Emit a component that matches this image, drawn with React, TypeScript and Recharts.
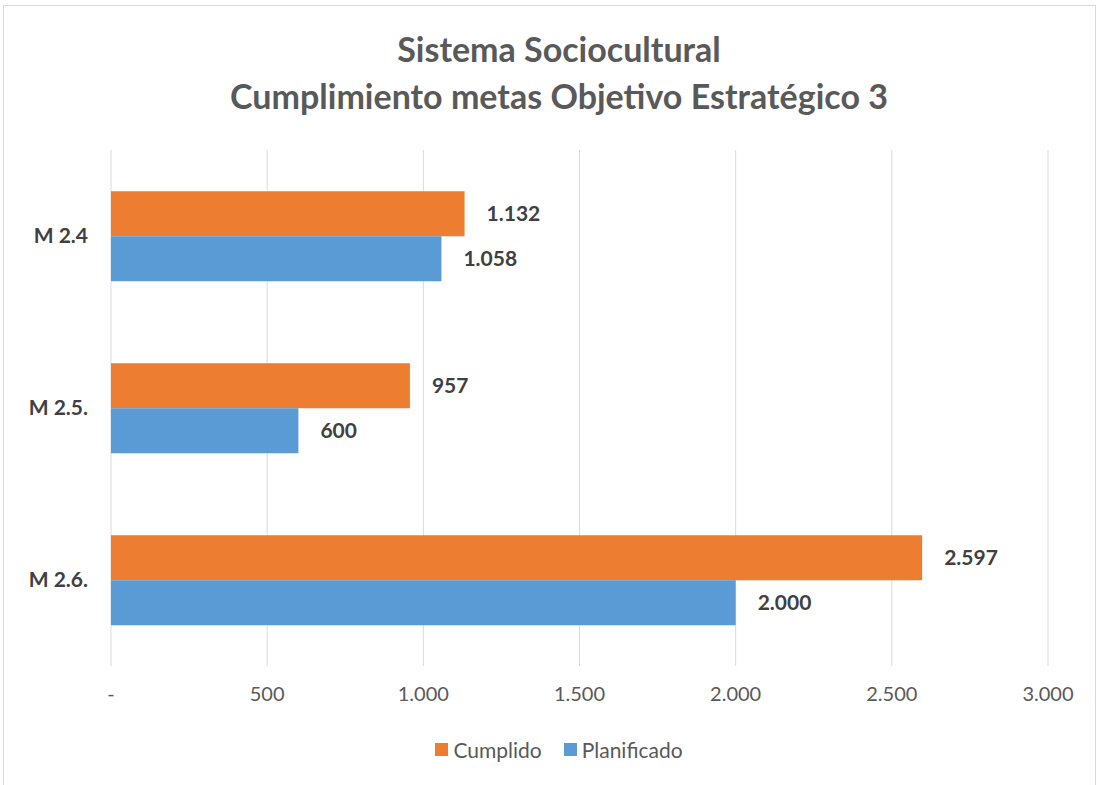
import React from "react";
import { BarChart, Bar, XAxis, YAxis, CartesianGrid, LabelList } from "recharts";

// Metas del objetivo estratégico 3
const categories = ["M 2.4", "M 2.5.", "M 2.6."];
const cumplido = [1132, 957, 2597];
const planificado = [1058, 600, 2000];
const xTicks = [0, 500, 1000, 1500, 2000, 2500, 3000];

const data = categories.map((name, i) => ({
  name,
  cumplido: cumplido[i],
  planificado: planificado[i],
}));

const FONT = "Lato, 'Open Sans', sans-serif";

const fmt = (v: number) =>
  v === 0 ? "-" : String(v).replace(/\B(?=(\d{3})+(?!\d))/g, ".");

const App: React.FC = () => {
  return (
    <div
      style={{
        position: "absolute",
        left: 0,
        top: 0,
        width: 1099,
        height: 785,
        background: "#fff",
        fontFamily: FONT,
      }}
    >
      <div
        style={{
          position: "absolute",
          left: 3,
          top: 5,
          width: 1091,
          height: 790,
          border: "1px solid #d9d9d9",
        }}
      />
      <div
        style={{
          position: "absolute",
          left: 0,
          top: 25,
          width: 1118,
          textAlign: "center",
          fontSize: 34,
          fontWeight: 700,
          color: "#595959",
          lineHeight: "47px",
        }}
      >
        Sistema Sociocultural
        <br />
        Cumplimiento metas Objetivo Estratégico 3
      </div>
      <div style={{ position: "absolute", left: 0, top: 0 }}>
        <BarChart
          width={1099}
          height={785}
          data={data}
          layout="vertical"
          margin={{ top: 150, right: 51, bottom: 79, left: 11 }}
          barCategoryGap="24%"
          barGap={0}
        >
          <CartesianGrid horizontal={false} stroke="#d9d9d9" />
          <XAxis
            type="number"
            domain={[0, 3000]}
            ticks={xTicks}
            tickFormatter={fmt}
            axisLine={false}
            tickLine={false}
            tickSize={0}
            tickMargin={21}
            height={40}
            tick={{ fill: "#595959", fontSize: 20, fontFamily: FONT }}
          />
          <YAxis
            type="category"
            dataKey="name"
            width={100}
            axisLine={false}
            tickLine={false}
            tickSize={0}
            tickMargin={23}
            tick={{ fill: "#404040", fontSize: 21, fontWeight: 700, fontFamily: FONT }}
          />
          <Bar dataKey="cumplido" fill="#ED7D31" isAnimationActive={false}>
            <LabelList
              dataKey="cumplido"
              position="right"
              offset={22}
              formatter={(v: any) => fmt(Number(v))}
              style={{ fill: "#404040", fontSize: 21, fontWeight: 700, fontFamily: FONT }}
            />
          </Bar>
          <Bar dataKey="planificado" fill="#5B9BD5" isAnimationActive={false}>
            <LabelList
              dataKey="planificado"
              position="right"
              offset={22}
              formatter={(v: any) => fmt(Number(v))}
              style={{ fill: "#404040", fontSize: 21, fontWeight: 700, fontFamily: FONT }}
            />
          </Bar>
        </BarChart>
      </div>
      <div
        style={{
          position: "absolute",
          left: 0,
          top: 737,
          width: 1118,
          display: "flex",
          justifyContent: "center",
          alignItems: "center",
          gap: 22,
          fontSize: 21,
          color: "#595959",
        }}
      >
        <span style={{ display: "flex", alignItems: "center" }}>
          <span style={{ width: 13, height: 13, background: "#ED7D31", marginRight: 5 }} />
          Cumplido
        </span>
        <span style={{ display: "flex", alignItems: "center" }}>
          <span style={{ width: 13, height: 13, background: "#5B9BD5", marginRight: 5 }} />
          Planificado
        </span>
      </div>
    </div>
  );
};

export default App;
